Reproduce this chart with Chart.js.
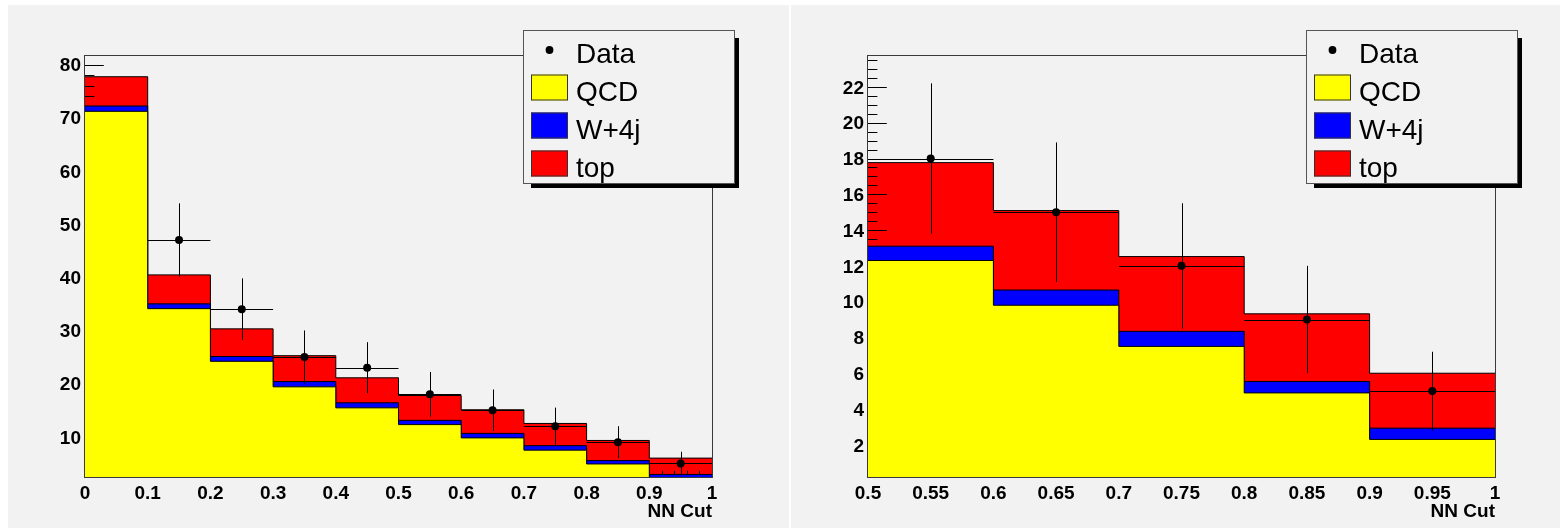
<!DOCTYPE html>
<html>
<head>
<meta charset="utf-8">
<script src="https://cdn.jsdelivr.net/npm/chart.js@4.4.1/dist/chart.umd.min.js"></script>
<style>
  html, body { margin: 0; padding: 0; background: #ffffff; overflow: hidden; width: 1560px; height: 528px; }
  .pad { position: absolute; top: 5px; width: 781px; height: 523px; background: #f2f2f2; }
  #padL { left: 8px; }
  #padR { left: 791px; }
</style>
</head>
<body>
<canvas id="padL" class="pad" width="781" height="523"></canvas>
<canvas id="padR" class="pad" width="781" height="523"></canvas>
<script>
// Bin edges of the NN output distribution
const binEdges = [0.0, 0.1, 0.2, 0.3, 0.4, 0.5, 0.6, 0.7, 0.8, 0.9, 1.0];

// Expected events per bin, by process
const qcd     = [71.2, 34.1, 24.2, 19.4, 15.45, 12.3, 9.8, 7.5, 4.9, 2.3];
const wjets   = [1.0, 0.9, 0.9, 1.0, 0.95, 0.8, 0.85, 0.84, 0.64, 0.63];
const topPair = [5.5, 5.45, 5.2, 4.86, 4.7, 4.67, 4.44, 4.18, 3.78, 3.07];

// Observed events and their uncertainties
const dataCounts = [null, 47, 34, 25, 23, 18, 15, 12, 9, 5];
const dataErr    = [null, 6.9, 5.8, 5.0, 4.8, 4.2, 3.9, 3.5, 3.0, 2.2];

const seriesNames  = ['Data', 'QCD', 'W+4j', 'top'];
const seriesColors = ['#000000', '#ffff00', '#0000ff', '#ff0000'];

// Axis labels
const xTicksFull = ['0', '0.1', '0.2', '0.3', '0.4', '0.5', '0.6', '0.7', '0.8', '0.9', '1'];
const xTicksHigh = ['0.5', '0.55', '0.6', '0.65', '0.7', '0.75', '0.8', '0.85', '0.9', '0.95', '1'];
const yTicksFull = ['10', '20', '30', '40', '50', '60', '70', '80'];
const yTicksHigh = ['2', '4', '6', '8', '10', '12', '14', '16', '18', '20', '22'];
const xTitle = 'NN Cut';

const FONT = '"Liberation Sans", Arial, Helvetica, sans-serif';

function stepPoints(values, first) {
  const pts = [];
  for (let i = first; i < values.length; i++) pts.push({ x: binEdges[i], y: values[i] });
  pts.push({ x: binEdges[values.length], y: values[values.length - 1] });
  return pts;
}

function makePanel(canvas, cfg) {
  const n = qcd.length;
  const cumQ = qcd.slice();
  const cumQW = qcd.map((v, i) => v + wjets[i]);
  const cumAll = qcd.map((v, i) => v + wjets[i] + topPair[i]);

  const dataPts = [];
  const dataIdx = [];
  for (let i = cfg.firstBin; i < n; i++) {
    if (dataCounts[i] === null) continue;
    dataPts.push({ x: (binEdges[i] + binEdges[i + 1]) / 2, y: dataCounts[i] });
    dataIdx.push(i);
  }

  const histStyle = (color) => ({
    stepped: true, fill: 'start', backgroundColor: color, borderColor: '#000000',
    borderWidth: 1, pointRadius: 0, pointHoverRadius: 0
  });

  const rootStyle = {
    id: 'rootStyle',
    // axis ticks are painted after the summed histogram, under the other layers
    afterDatasetDraw(chart, args) {
      if (args.index !== 3) return;
      const { ctx, chartArea: a, scales: { x, y } } = chart;
      ctx.save();
      ctx.strokeStyle = '#000000';
      ctx.lineWidth = 1;
      ctx.beginPath();
      const hy = (v, len) => {
        const py = Math.round(y.getPixelForValue(v)) + 0.5;
        ctx.moveTo(a.left, py); ctx.lineTo(a.left + len, py);
      };
      const hx = (v, len) => {
        const px = Math.round(x.getPixelForValue(v)) + 0.5;
        ctx.moveTo(px, a.bottom); ctx.lineTo(px, a.bottom - len);
      };
      cfg.yTicks.forEach(t => hy(parseFloat(t), 18.8));
      for (let k = Math.ceil(y.min / cfg.yMinor - 1e-9); k * cfg.yMinor <= y.max + 1e-9; k++) hy(k * cfg.yMinor, 9.4);
      cfg.xTicks.forEach(t => hx(parseFloat(t), 12.6));
      for (let k = Math.ceil(x.min / cfg.xMinor - 1e-9); k * cfg.xMinor <= x.max + 1e-9; k++) hx(k * cfg.xMinor, 6.3);
      ctx.stroke();
      ctx.restore();
    },
    // error bars under the data markers
    beforeDatasetDraw(chart, args) {
      if (args.index !== 0) return;
      const { ctx, scales: { x, y } } = chart;
      ctx.save();
      ctx.strokeStyle = '#000000';
      ctx.lineWidth = 1;
      ctx.beginPath();
      dataIdx.forEach(i => {
        const xc = Math.round(x.getPixelForValue((binEdges[i] + binEdges[i + 1]) / 2)) + 0.5;
        const yc = Math.round(y.getPixelForValue(dataCounts[i])) + 0.5;
        ctx.moveTo(x.getPixelForValue(binEdges[i]), yc);
        ctx.lineTo(x.getPixelForValue(binEdges[i + 1]), yc);
        ctx.moveTo(xc, y.getPixelForValue(dataCounts[i] + dataErr[i]));
        ctx.lineTo(xc, y.getPixelForValue(dataCounts[i] - dataErr[i]));
      });
      ctx.stroke();
      ctx.restore();
    },
    afterDatasetsDraw(chart) {
      const { ctx, chartArea: a } = chart;
      ctx.save();
      ctx.strokeStyle = '#3a3a3a';
      ctx.lineWidth = 1;
      ctx.strokeRect(a.left - 0.5, a.top - 0.5, a.right - a.left + 1, a.bottom - a.top + 1);
      ctx.restore();
    },
    afterDraw(chart) {
      const { ctx } = chart;
      const bx = 515, by = 25, bw = 211, bh = 153;
      ctx.save();
      ctx.fillStyle = '#000000';
      ctx.fillRect(bx + 8, by + 8, bw - 3, bh - 3);
      ctx.fillStyle = '#f2f2f2';
      ctx.fillRect(bx, by, bw, bh);
      ctx.strokeStyle = '#555555';
      ctx.lineWidth = 1;
      ctx.strokeRect(bx + 0.5, by + 0.5, bw, bh);
      ctx.font = '28px ' + FONT;
      ctx.textBaseline = 'alphabetic';
      ctx.textAlign = 'left';
      seriesNames.forEach((name, k) => {
        const cy = by + 19.5 + 38 * k;
        if (k === 0) {
          ctx.fillStyle = seriesColors[0];
          ctx.beginPath();
          ctx.arc(bx + 26.5, cy + 0.5, 3.9, 0, Math.PI * 2);
          ctx.fill();
        } else {
          ctx.fillStyle = seriesColors[k];
          ctx.fillRect(bx + 8, cy - 13, 37, 26);
          ctx.strokeStyle = '#333333';
          ctx.strokeRect(bx + 8.5, cy - 12.5, 36, 25);
        }
        ctx.fillStyle = '#000000';
        ctx.fillText(name, bx + 53, cy + 13);
      });
      ctx.restore();
    }
  };

  const tickFont = { family: FONT, size: 19, weight: 'bold' };
  const findLabel = (list, v) => list.find(s => Math.abs(parseFloat(s) - v) < 1e-9) || '';

  return new Chart(canvas, {
    type: 'line',
    data: {
      datasets: [
        { label: seriesNames[0], data: dataPts, showLine: false, pointRadius: 4, pointHoverRadius: 4,
          pointBackgroundColor: seriesColors[0], pointBorderWidth: 0, order: 0 },
        Object.assign({ label: seriesNames[1], data: stepPoints(cumQ, cfg.firstBin), order: 1 }, histStyle(seriesColors[1])),
        Object.assign({ label: seriesNames[2], data: stepPoints(cumQW, cfg.firstBin), order: 2 }, histStyle(seriesColors[2])),
        Object.assign({ label: seriesNames[3], data: stepPoints(cumAll, cfg.firstBin), order: 3 }, histStyle(seriesColors[3]))
      ]
    },
    options: {
      responsive: false,
      animation: false,
      devicePixelRatio: 1,
      layout: { padding: { top: 51, right: 77, left: 0, bottom: 0 } },
      plugins: { legend: { display: false }, tooltip: { enabled: false } },
      events: [],
      scales: {
        x: {
          type: 'linear', min: cfg.xMin, max: cfg.xMax,
          grid: { display: false, drawTicks: false }, border: { display: false },
          afterFit: s => { s.height = 51; },
          afterBuildTicks: s => { s.ticks = cfg.xTicks.map(t => ({ value: parseFloat(t) })); },
          ticks: { autoSkip: false, maxRotation: 0, minRotation: 0, padding: 5, color: '#000000', font: tickFont,
                   callback: v => findLabel(cfg.xTicks, v) },
          title: { display: true, text: xTitle, align: 'end', color: '#000000', font: tickFont,
                   padding: { top: 0, bottom: 5 } }
        },
        y: {
          type: 'linear', min: cfg.yMin, max: cfg.yMax,
          grid: { display: false, drawTicks: false }, border: { display: false },
          afterFit: s => { s.width = 77; },
          afterBuildTicks: s => { s.ticks = cfg.yTicks.map(t => ({ value: parseFloat(t) })); },
          ticks: { autoSkip: false, padding: 4, labelOffset: 1.5, color: '#000000', font: tickFont,
                   callback: v => findLabel(cfg.yTicks, v) }
        }
      }
    },
    plugins: [rootStyle]
  });
}

makePanel(document.getElementById('padL'), {
  firstBin: 0, xMin: 0, xMax: 1, yMin: 2.45, yMax: 81.6,
  xTicks: xTicksFull, yTicks: yTicksFull, xMinor: 0.02, yMinor: 2
});
makePanel(document.getElementById('padR'), {
  firstBin: 5, xMin: 0.5, xMax: 1, yMin: 0.2, yMax: 23.73,
  xTicks: xTicksHigh, yTicks: yTicksHigh, xMinor: 0.01, yMinor: 0.5
});
</script>
</body>
</html>
